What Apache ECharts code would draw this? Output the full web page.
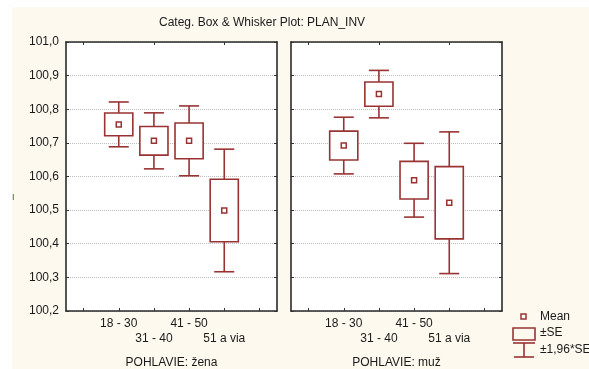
<!DOCTYPE html>
<html>
<head>
<meta charset="utf-8">
<script src="https://cdn.jsdelivr.net/npm/echarts@6/dist/echarts.min.js"></script>
<style>
html,body{margin:0;padding:0;background:#ffffff;}
#chart{width:589px;height:369px;}
</style>
</head>
<body>
<div id="chart"></div>
<script>
// ---- data ----
var ageGroups = ['18 - 30', '31 - 40', '41 - 50', '51 a via'];
var panelNames = ['POHLAVIE: žena', 'POHLAVIE: muž'];
var zenaMean = [100.755, 100.706, 100.706, 100.499];
var zenaSE   = [0.034, 0.0425, 0.053, 0.093];
var muzMean  = [100.692, 100.845, 100.589, 100.522];
var muzSE    = [0.043, 0.036, 0.056, 0.1075];
var yTicks = [100.2, 100.3, 100.4, 100.5, 100.6, 100.7, 100.8, 100.9, 101.0];
var titleText = 'Categ. Box & Whisker Plot: PLAN_INV';
var legendLabels = ['Mean', '±SE', '±1,96*SE'];
var seFactor = 1.96;

// ---- build ----
var RED = '#993333';
var FONT = 'Liberation Sans, Arial, sans-serif';
var cats = [''].concat(ageGroups).concat(['']);
var yMin = yTicks[0], yMax = yTicks[yTicks.length - 1];

function fmtY(v){ return v.toFixed(1).replace('.', ','); }

function renderBox(params, api){
  var x = api.value(0), m = api.value(1), se = api.value(2);
  var band = api.size([1, 0])[0];
  var bw = band * 0.4, cw = band * 0.285;
  var cx = api.coord([x, m])[0];
  var yM = api.coord([x, m])[1];
  var yBT = api.coord([x, m + se])[1];
  var yBB = api.coord([x, m - se])[1];
  var yWT = api.coord([x, m + seFactor * se])[1];
  var yWB = api.coord([x, m - seFactor * se])[1];
  var st = {stroke: RED, lineWidth: 1.6, fill: null};
  return {type: 'group', children: [
    {type: 'line', shape: {x1: cx, y1: yWT, x2: cx, y2: yBT}, style: st},
    {type: 'line', shape: {x1: cx, y1: yBB, x2: cx, y2: yWB}, style: st},
    {type: 'line', shape: {x1: cx - cw, y1: yWT, x2: cx + cw, y2: yWT}, style: st},
    {type: 'line', shape: {x1: cx - cw, y1: yWB, x2: cx + cw, y2: yWB}, style: st},
    {type: 'rect', shape: {x: cx - bw, y: yBT, width: 2 * bw, height: yBB - yBT}, style: {stroke: RED, lineWidth: 1.6, fill: '#ffffff'}},
    {type: 'rect', shape: {x: cx - 2.5, y: yM - 2.5, width: 5, height: 5}, style: {stroke: RED, lineWidth: 1.5, fill: '#ffffff'}}
  ]};
}

var panels = [
  {left: 66, mean: zenaMean, se: zenaSE, name: panelNames[0]},
  {left: 291, mean: muzMean, se: muzSE, name: panelNames[1]}
];

var grids = [], xAxes = [], yAxes = [], series = [];
var axisLine = {show: true, lineStyle: {color: '#2a2a2a', width: 1.6}};
panels.forEach(function(p, gi){
  grids.push({left: p.left, top: 42, width: 211, height: 269, containLabel: false,
              outerBoundsMode: 'none',
              show: true, backgroundColor: '#ffffff', borderWidth: 0});
  xAxes.push({
    type: 'category', gridIndex: gi, position: 'bottom', data: cats,
    boundaryGap: true,
    axisLine: axisLine,
    axisTick: {show: true, inside: true, alignWithLabel: true, length: 3, lineStyle: {color: '#333'}},
    axisLabel: {
      interval: 0, margin: 5, color: '#1a1a1a', fontFamily: FONT, fontSize: 12, lineHeight: 15,
      formatter: function(v, idx){ return (idx % 2 === 0 && v) ? '\n' + v : v; }
    },
    splitLine: {show: false},
    name: p.name, nameLocation: 'middle', nameGap: 46,
    nameTextStyle: {color: '#1a1a1a', fontFamily: FONT, fontSize: 12}
  });
  xAxes.push({
    type: 'category', gridIndex: gi, position: 'top', data: cats,
    boundaryGap: true,
    axisLine: axisLine,
    axisTick: {show: true, inside: true, alignWithLabel: true, length: 3, lineStyle: {color: '#333'}},
    axisLabel: {show: false}, splitLine: {show: false}
  });
  yAxes.push({
    type: 'value', gridIndex: gi, position: 'left', min: yMin, max: yMax, interval: 0.1,
    axisLine: axisLine,
    axisTick: {show: true, inside: true, length: 3, lineStyle: {color: '#333'}},
    axisLabel: {show: gi === 0, margin: 7, color: '#1a1a1a', fontFamily: FONT, fontSize: 12, formatter: fmtY},
    splitLine: {show: true, lineStyle: {color: '#bdbdbd', type: 'dotted', width: 1}}
  });
  yAxes.push({
    type: 'value', gridIndex: gi, position: 'right', min: yMin, max: yMax, interval: 0.1,
    axisLine: axisLine,
    axisTick: {show: true, inside: true, length: 3, lineStyle: {color: '#333'}},
    axisLabel: {show: false}, splitLine: {show: false}
  });
  var data = ageGroups.map(function(g, i){ return [i + 1, p.mean[i], p.se[i]]; });
  series.push({
    type: 'custom', xAxisIndex: gi * 2, yAxisIndex: gi * 2,
    renderItem: renderBox, data: data,
    encode: {x: 0, y: 1}, silent: true, animation: false
  });
});

var option = {
  animation: false,
  backgroundColor: '#ffffff',
  grid: grids, xAxis: xAxes, yAxis: yAxes, series: series,
  graphic: [
    {type: 'rect', left: 12, top: 7, shape: {width: 577, height: 362}, style: {fill: '#fef9ef'}, z: -10, silent: true},
    {type: 'text', left: 159, top: 17, style: {text: titleText, fill: '#1a1a1a', font: '12px ' + FONT}},
    {type: 'text', left: 12, top: 193, style: {text: 'I', fill: '#445566', font: '9px ' + FONT}},
    // legend
    {type: 'rect', shape: {x: 521, y: 314, width: 5, height: 5}, style: {stroke: RED, lineWidth: 1.5, fill: '#ffffff'}},
    {type: 'text', x: 540, y: 317, style: {text: legendLabels[0], fill: '#1a1a1a', font: '12px ' + FONT, verticalAlign: 'middle'}},
    {type: 'rect', shape: {x: 513, y: 328, width: 22, height: 12}, style: {stroke: RED, lineWidth: 1.6, fill: null}},
    {type: 'text', x: 540, y: 333, style: {text: legendLabels[1], fill: '#1a1a1a', font: '12px ' + FONT, verticalAlign: 'middle'}},
    {type: 'line', shape: {x1: 513, y1: 343, x2: 535, y2: 343}, style: {stroke: RED, lineWidth: 1.6}},
    {type: 'line', shape: {x1: 524, y1: 343, x2: 524, y2: 357}, style: {stroke: RED, lineWidth: 1.6}},
    {type: 'line', shape: {x1: 514, y1: 357, x2: 534, y2: 357}, style: {stroke: RED, lineWidth: 1.6}},
    {type: 'text', x: 540, y: 350, style: {text: legendLabels[2], fill: '#1a1a1a', font: '12px ' + FONT, verticalAlign: 'middle'}}
  ]
};

var chart = echarts.init(document.getElementById('chart'), null, {renderer: 'canvas'});
chart.setOption(option);
</script>
</body>
</html>
